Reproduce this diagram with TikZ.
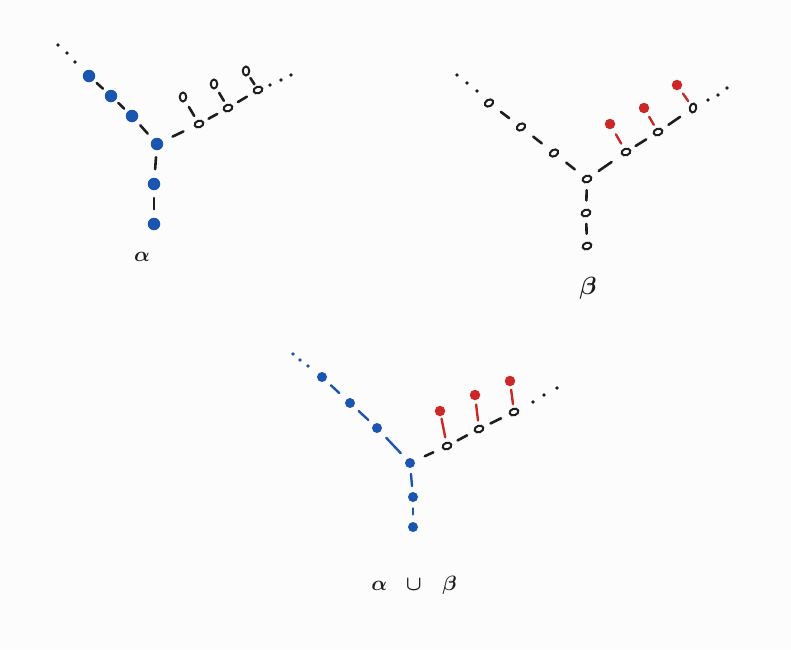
\documentclass[tikz,border=0pt]{standalone}
\usepackage{amsmath}
\usetikzlibrary{calc,shapes.geometric}
\definecolor{bl}{RGB}{26,86,176}
\definecolor{rd}{RGB}{204,40,40}
\definecolor{ink}{RGB}{30,30,30}
\definecolor{bg}{RGB}{252,252,252}
\tikzset{
  bigblue/.style={circle,fill=bl,inner sep=0pt,minimum size=12.5pt},
  smallblue/.style={circle,fill=bl,inner sep=0pt,minimum size=10pt},
  reddot/.style={circle,fill=rd,inner sep=0pt,minimum size=10.5pt},
  opennode/.style={ellipse,draw=ink,line width=2pt,inner sep=0pt,minimum width=9pt,minimum height=6.5pt,rotate=20},
  tinydot/.style={circle,fill=ink,inner sep=0pt,minimum size=3.6pt},
  tinyblue/.style={circle,fill=bl,inner sep=0pt,minimum size=3.6pt},
  edgeline/.style={line width=2.6pt,line cap=round,draw=ink},
  blueline/.style={line width=2.4pt,line cap=round,draw=bl},
  redline/.style={line width=2.4pt,line cap=round,draw=rd},
  lab/.style={text=ink,inner sep=0pt},
}
\newcommand{\dash}[4][edgeline]{\draw[#1] ($(#2.center)!#3!(#4.center)$) -- ($(#2.center)!0.63!(#4.center)$);}
\begin{document}
\begin{tikzpicture}[x=1pt,y=-1pt]
\fill[bg] (0,0) rectangle (791,649);
\useasboundingbox (0,0) rectangle (791,649);
% ---------- alpha ----------
\node[tinydot] (ad1) at (58,45) {};
\node[tinydot] (ad2) at (67,53) {};
\node[tinydot] (ad3) at (75,62) {};
\node[bigblue] (a1) at (89,76) {};
\node[bigblue] (a2) at (111,96) {};
\node[bigblue] (a3) at (132,116) {};
\node[bigblue] (a0) at (157,144) {};
\node[bigblue] (a4) at (154,184) {};
\node[bigblue] (a5) at (154,224) {};
\node[opennode] (ar1) at (199,124) {};
\node[opennode] (ar2) at (228,108) {};
\node[opennode] (ar3) at (258,90) {};
\node[opennode,rotate=70] (ap1) at (183,97) {};
\node[opennode,rotate=70] (ap2) at (214,84) {};
\node[opennode,rotate=70] (ap3) at (246,71) {};
\node[tinydot] (ae1) at (270,85) {};
\node[tinydot] (ae2) at (281,80) {};
\node[tinydot] (ae3) at (291,75) {};
\dash{a1}{0.35}{a2}
\dash{a2}{0.35}{a3}
\dash{a3}{0.33}{a0}
\dash{a0}{0.33}{a4}
\dash{a4}{0.35}{a5}
\dash{a0}{0.37}{ar1}
\dash{ar1}{0.33}{ar2}
\dash{ar2}{0.33}{ar3}
\dash{ar1}{0.3}{ap1}
\dash{ar2}{0.3}{ap2}
\dash{ar3}{0.3}{ap3}
\node[lab,font=\fontsize{22}{26}\selectfont] (alab) at (142,257) {$\boldsymbol{\alpha}$};
% ---------- beta ----------
\node[tinydot] (bd1x) at (457,75) {};
\node[tinydot] (bd2x) at (467,83) {};
\node[tinydot] (bd3x) at (477,91) {};
\node[opennode,rotate=10] (bl1) at (489,103) {};
\node[opennode,rotate=10] (bl2) at (521,127) {};
\node[opennode,rotate=10] (bl3) at (554,153) {};
\node[opennode,rotate=0] (b0) at (587,179) {};
\node[opennode,rotate=0] (bd1) at (586,213) {};
\node[opennode,rotate=0] (bd2) at (587,246) {};
\node[opennode] (br1) at (626,152) {};
\node[opennode] (br2) at (658,132) {};
\node[opennode,rotate=60] (br3) at (693,108) {};
\node[reddot] (bp1) at (610,124) {};
\node[reddot] (bp2) at (644,108) {};
\node[reddot] (bp3) at (677,85) {};
\node[tinydot] (be1) at (708,100) {};
\node[tinydot] (be2) at (718,95) {};
\node[tinydot] (be3) at (727,88) {};
\dash{bl1}{0.37}{bl2}
\dash{bl2}{0.37}{bl3}
\dash{bl3}{0.37}{b0}
\dash{b0}{0.33}{bd1}
\dash{bd1}{0.33}{bd2}
\dash{b0}{0.3}{br1}
\dash{br1}{0.3}{br2}
\dash{br2}{0.3}{br3}
\dash[redline]{br1}{0.3}{bp1}
\dash[redline]{br2}{0.3}{bp2}
\dash[redline]{br3}{0.3}{bp3}
\node[lab,font=\fontsize{24}{28}\selectfont] (blab) at (588,288) {$\boldsymbol{\beta}$};
% ---------- alpha cup beta ----------
\node[tinyblue] (cd1x) at (293,354) {};
\node[tinyblue] (cd2x) at (300,360) {};
\node[tinyblue] (cd3x) at (308,366) {};
\node[smallblue] (cl1) at (322,377) {};
\node[smallblue] (cl2) at (350,403) {};
\node[smallblue] (cl3) at (377,428) {};
\node[smallblue] (c0) at (410,463) {};
\node[smallblue] (cd1) at (413,497) {};
\node[smallblue] (cd2) at (413,527) {};
\node[opennode] (cr1) at (447,446) {};
\node[opennode] (cr2) at (479,429) {};
\node[opennode] (cr3) at (514,412) {};
\node[reddot] (cp1) at (440,411) {};
\node[reddot] (cp2) at (475,395) {};
\node[reddot] (cp3) at (510,381) {};
\node[tinydot] (ce1) at (533,402) {};
\node[tinydot] (ce2) at (544,395) {};
\node[tinydot] (ce3) at (557,388) {};
\draw[blueline] ($(cl1.center)!0.32!(cl2.center)$) -- ($(cl1.center)!0.62!(cl2.center)$);
\draw[blueline] ($(cl2.center)!0.32!(cl3.center)$) -- ($(cl2.center)!0.68!(cl3.center)$);
\draw[blueline] ($(cl3.center)!0.28!(c0.center)$) -- ($(cl3.center)!0.72!(c0.center)$);
\draw[blueline] ($(c0.center)!0.32!(cd1.center)$) -- ($(c0.center)!0.68!(cd1.center)$);
\draw[blueline] ($(cd1.center)!0.38!(cd2.center)$) -- ($(cd1.center)!0.58!(cd2.center)$);
\dash{c0}{0.4}{cr1}
\dash{cr1}{0.33}{cr2}
\dash{cr2}{0.33}{cr3}
\draw[redline] ($(cr1.center)!0.25!(cp1.center)$) -- ($(cr1.center)!0.78!(cp1.center)$);
\draw[redline] ($(cr2.center)!0.25!(cp2.center)$) -- ($(cr2.center)!0.72!(cp2.center)$);
\draw[redline] ($(cr3.center)!0.25!(cp3.center)$) -- ($(cr3.center)!0.72!(cp3.center)$);
\node[lab,font=\fontsize{20}{24}\selectfont] (clab) at (414,585) {$\boldsymbol{\alpha}\hspace{14pt}\boldsymbol{\cup}\hspace{16pt}\boldsymbol{\beta}$};
\end{tikzpicture}
\end{document}
